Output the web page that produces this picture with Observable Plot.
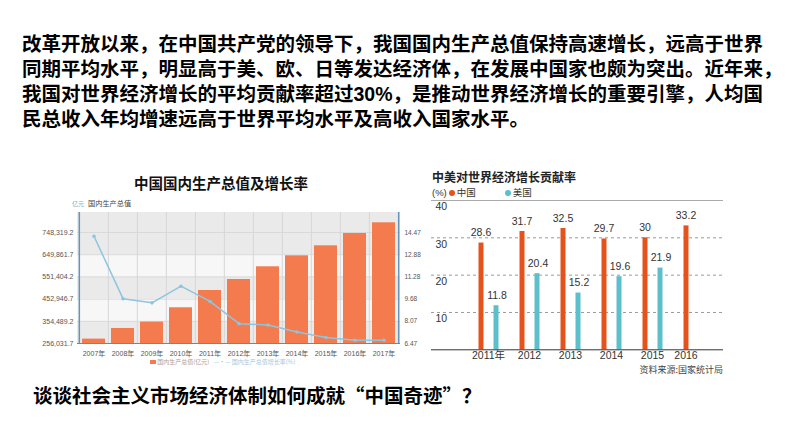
<!DOCTYPE html>
<html><head><meta charset="utf-8">
<script src="https://cdn.jsdelivr.net/npm/d3@7"></script>
<script src="https://cdn.jsdelivr.net/npm/@observablehq/plot@0.6"></script>
<style>
body{margin:0;background:#fff;width:794px;height:447px;overflow:hidden;position:relative;font-family:"Noto Sans CJK SC",sans-serif;}
.abs{position:absolute;white-space:nowrap;}
.chart{position:absolute;}
.q1{display:inline-block;width:1em;text-align:right;}
.q2{display:inline-block;width:1em;text-align:left;}
</style></head><body>
<div class="abs" style="left:22px;top:32px;font-size:19.5px;line-height:25px;font-weight:bold;color:#000;font-family:'Liberation Sans','Noto Sans CJK SC',sans-serif;">改革开放以来，在中国共产党的领导下，我国国内生产总值保持高速增长，远高于世界<br>同期平均水平，明显高于美、欧、日等发达经济体，在发展中国家也颇为突出。近年来，<br>我国对世界经济增长的平均贡献率超过30%，是推动世界经济增长的重要引擎，人均国<br>民总收入年均增速远高于世界平均水平及高收入国家水平。</div>

<div class="abs" style="left:121px;top:174px;width:200px;text-align:center;font-size:14.5px;line-height:18px;font-weight:bold;color:#111;">中国国内生产总值及增长率</div>
<div class="abs" style="left:72px;top:200px;font-size:6px;line-height:8px;color:#7aaecb;">亿元</div>
<div class="abs" style="left:88px;top:199px;font-size:7.2px;line-height:9px;color:#444;">国内生产总值</div>

<div id="left1" class="chart" style="left:0;top:200px;"></div>
<div id="left2" class="chart" style="left:0;top:200px;"></div>

<div class="abs" style="left:150px;top:358px;font-size:6px;line-height:8px;color:#b89a8a;">
<span style="display:inline-block;width:6px;height:4px;background:#f47b4d;vertical-align:middle;"></span> 国内生产总值(亿元)
<span style="color:#8ec5de;margin-left:3px;">—•—</span><span style="color:#9cc9de;"> 国内生产总值增长率(%)</span></div>

<div class="abs" style="left:432px;top:169px;font-size:12px;line-height:16px;font-weight:bold;color:#222;">中美对世界经济增长贡献率</div>
<div class="abs" style="left:432px;top:187px;font-size:9.5px;line-height:12px;color:#333;font-family:'Liberation Sans','Noto Sans CJK SC',sans-serif;">(%)<span style="display:inline-block;width:6px;height:6px;border-radius:50%;background:#e5521c;margin:0 2px 0 2px;vertical-align:middle;"></span>中国<span style="display:inline-block;width:6px;height:6px;border-radius:50%;background:#5cbfcc;margin:0 2px 0 29px;vertical-align:middle;"></span>美国</div>

<div id="right" class="chart" style="left:410px;top:195px;"></div>
<div class="abs" style="right:71px;top:364px;font-size:9px;line-height:12px;color:#444;">资料来源:国家统计局</div>

<div class="abs" style="left:33px;top:382px;font-size:19.5px;line-height:25px;font-weight:bold;color:#000;">谈谈社会主义市场经济体制如何成就<span class="q1">“</span>中国奇迹<span class="q2">”</span>？</div>

<script>
// ---- data: 中国国内生产总值及增长率 ----
const gdpYears = ["2007年","2008年","2009年","2010年","2011年","2012年","2013年","2014年","2015年","2016年","2017年"];
const gdpValues = [275500, 322600, 350900, 414400, 491100, 539900, 596200, 645000, 689300, 743900, 791300];
const growthValues = [14.2, 9.7, 9.4, 10.6, 9.5, 7.9, 7.8, 7.3, 6.9, 6.7, 6.7];
const gdpTicks = [256031.7, 354489.2, 452946.7, 551404.2, 649861.7, 748319.2];
const growthTicks = [6.47, 8.07, 9.68, 11.28, 12.88, 14.47];
const gdpTop = 837000;
const growthTop = 15.91;

// ---- data: 中美对世界经济增长贡献率 ----
const contribYears = ["2011年","2012","2013","2014","2015","2016"];
const chinaContrib = [28.6, 31.7, 32.5, 29.7, 30, 33.2];
const usContrib = [11.8, 20.4, 15.2, 19.6, 21.9, null];
const contribTicks = [10, 20, 30, 40];

const gdpData = gdpYears.map((year, i) => ({year, gdp: gdpValues[i], growth: growthValues[i]}));
const contribData = contribYears.map((year, i) => ({year, china: chinaContrib[i], us: usContrib[i]}));

const bands = gdpTicks.map((lo, i) => ({lo, hi: i < gdpTicks.length - 1 ? gdpTicks[i + 1] : gdpTop, gray: i % 2 === 0 || i === gdpTicks.length - 1}));

const W = 440, H = 170, ML = 77, MR = 40, MT = 12, MB = 27;
const half = (W - ML - MR) / gdpYears.length / 2;
const xBand = {type: "band", domain: gdpYears, paddingInner: 0.2, paddingOuter: 0.1, label: null};
const fontCharts = "'Liberation Sans','Noto Sans CJK SC',sans-serif";

const p1 = Plot.plot({
  width: W, height: H, marginLeft: ML, marginRight: MR, marginTop: MT, marginBottom: MB,
  style: {background: "transparent", fontSize: "7px", color: "#555", fontFamily: fontCharts},
  x: xBand,
  y: {domain: [gdpTicks[0], gdpTop], label: null},
  marks: [
    Plot.rect(bands.filter(d => d.gray), {y1: "lo", y2: "hi", fill: "#eaeaea"}),
    Plot.rect(bands.filter(d => !d.gray), {y1: "lo", y2: "hi", fill: "#f7f7f7"}),
    Plot.ruleY(gdpTicks.slice(1), {stroke: "#d9d9d9"}),
    Plot.ruleX(gdpYears.slice(1), {dx: -half, stroke: "#d6d6d6"}),
    Plot.barY(gdpData, {x: "year", y1: gdpTicks[0], y2: "gdp", fill: "#f47b4d"}),
    Plot.ruleY([gdpTicks[0]], {stroke: "#6f87a0", strokeWidth: 1.2}),
    Plot.ruleX([gdpYears[0]], {dx: -half, stroke: "#6493bd", strokeWidth: 1.5}),
    Plot.ruleX([gdpYears[gdpYears.length - 1]], {dx: half, stroke: "#6493bd", strokeWidth: 1.5}),
    Plot.axisY(gdpTicks, {tickSize: 0, tickPadding: 4, tickFormat: d3.format(",.1f"), label: null}),
    Plot.axisX({tickSize: 0, tickPadding: 8, label: null})
  ]
});
document.getElementById("left1").appendChild(p1);

const p2 = Plot.plot({
  width: W, height: H, marginLeft: ML, marginRight: MR, marginTop: MT, marginBottom: MB,
  style: {background: "transparent", fontSize: "6.5px", color: "#555", fontFamily: fontCharts},
  x: {...xBand, axis: null},
  y: {domain: [growthTicks[0], growthTop], label: null},
  marks: [
    Plot.line(gdpData, {x: "year", y: "growth", stroke: "#8ec5de", strokeWidth: 1.5}),
    Plot.dot(gdpData, {x: "year", y: "growth", r: 1.8, fill: "#8ec5de"}),
    Plot.axisY(growthTicks, {anchor: "right", tickSize: 0, tickPadding: 4, tickFormat: d3.format(".2f"), label: null})
  ]
});
document.getElementById("left2").appendChild(p2);

const withUs = contribData.filter(d => d.us != null);
const withoutUs = contribData.filter(d => d.us == null);
const p3 = Plot.plot({
  width: 330, height: 175, marginLeft: 21, marginRight: 17, marginTop: 5, marginBottom: 20.7,
  style: {background: "transparent", fontSize: "10.5px", color: "#333", fontFamily: fontCharts},
  x: {type: "point", domain: contribYears, range: [55, 305], axis: null, label: null},
  y: {domain: [0, 40], axis: null, label: null},
  marks: [
    Plot.ruleY(contribTicks.slice(0, -1), {stroke: "#9a9a9a", strokeDasharray: "3,3"}),
    Plot.ruleY(contribTicks.slice(-1), {stroke: "#aaa"}),
    Plot.ruleX(contribData, {x: "year", y1: 0, y2: "china", stroke: "#e5521c", strokeWidth: 5, dx: -7.5}),
    Plot.ruleX(withUs, {x: "year", y1: 0, y2: "us", stroke: "#5cbfcc", strokeWidth: 5, dx: 7.5}),
    Plot.ruleY([0], {stroke: "#333"}),
    Plot.text(contribTicks, {y: d => d, text: d => String(d), frameAnchor: "left", textAnchor: "start", dx: 4, dy: 6.5}),
    Plot.text(contribData, {x: "year", y: "china", text: d => String(d.china), dx: -7.5, dy: -10}),
    Plot.text(withUs, {x: "year", y: "us", text: d => String(d.us), dx: 8.5, dy: -10}),
    Plot.text(withUs, {x: "year", text: "year", frameAnchor: "bottom", dy: 9}),
    Plot.text(withoutUs, {x: "year", text: "year", frameAnchor: "bottom", dy: 9, dx: -7.5})
  ]
});
document.getElementById("right").appendChild(p3);
</script>
</body></html>
